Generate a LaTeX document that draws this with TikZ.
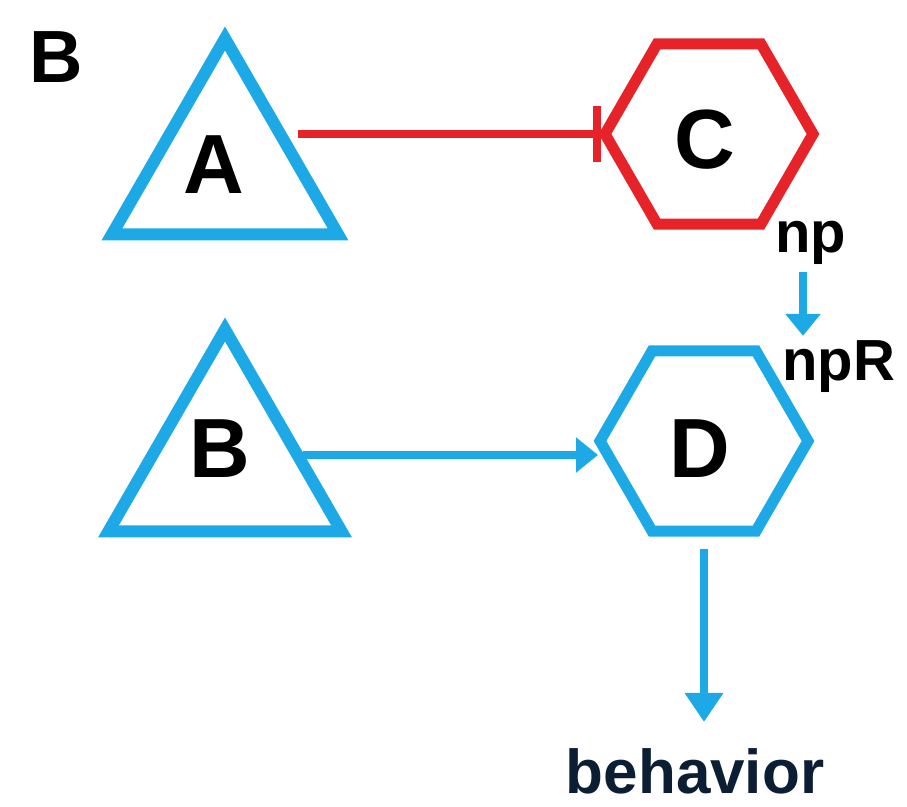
\documentclass[tikz,border=0pt]{standalone}
\usepackage{fontspec}
\setmainfont{Liberation Sans}
\usetikzlibrary{shapes.geometric,arrows.meta,calc}
\definecolor{netblue}{RGB}{29,169,230}
\definecolor{netred}{RGB}{229,35,41}
\definecolor{navy}{RGB}{12,30,52}
\begin{document}
\begin{tikzpicture}[x=1pt,y=-1pt,
  tri/.style={regular polygon,regular polygon sides=3,draw=netblue,line width=12pt,
    line join=miter,inner sep=0pt,outer sep=0pt},
  hexa/.style={regular polygon,regular polygon sides=6,line width=11pt,line join=miter,
    minimum size=208pt,inner sep=0pt,outer sep=0pt},
  lett/.style={font=\bfseries\fontsize{84}{84}\selectfont,inner sep=0pt,anchor=base},
  gene/.style={font=\bfseries\fontsize{58}{58}\selectfont,inner sep=0pt,anchor=base west},
  act/.style={draw=netblue,line width=8pt,-{Triangle[length=22pt,width=34pt]}},
  inh/.style={draw=netred,line width=8pt,-{Bar[width=56pt]}}]
\useasboundingbox (0,0) rectangle (907,806);

% panel letter
\node[font=\bfseries\fontsize{74}{74}\selectfont,inner sep=0pt,anchor=base west] (panel) at (29,82) {B};

% shapes
\node[tri,minimum size=261pt] (A) at (225,169) {};
\node[tri,minimum size=269pt] (B) at (225,464) {};
\node[hexa,draw=netred] (C) at (709,134) {};
\node[hexa,draw=netblue] (D) at (704,441) {};

% letters inside the shapes
\node[lett] (tA) at (214,193) {A};
\node[lett] (tB) at (220,477) {B};
\node[lett] (tC) at (705,168) {C};
\node[lett] (tD) at (700,477) {D};

% gene labels
\node[gene] (np) at (775,252) {np};
\node[gene] (npR) at (782,380) {npR};
\node[font=\bfseries\fontsize{62}{62}\selectfont,text=navy,inner sep=0pt,anchor=base] (beh) at (695,793) {behavior};

% connectors (corner 3 is the left vertex of each hexagon)
\draw[inh] ($(A.center |- C.corner 3)+(73,0)$) -- ($(C.corner 3)+(-4,0)$);
\draw[act] ($(B.center)+(78,-9)$) -- ($(D.corner 3)+(-2,14)$);
\draw[act] ($(np.south west)+(28,8)$) -- ($(npR.north west)+(21,-4)$);
\draw[act,-{Triangle[length=29pt,width=37pt]}] ([yshift=-18pt]D.south) -- ([yshift=26pt]D.south |- beh.north);
\end{tikzpicture}
\end{document}
